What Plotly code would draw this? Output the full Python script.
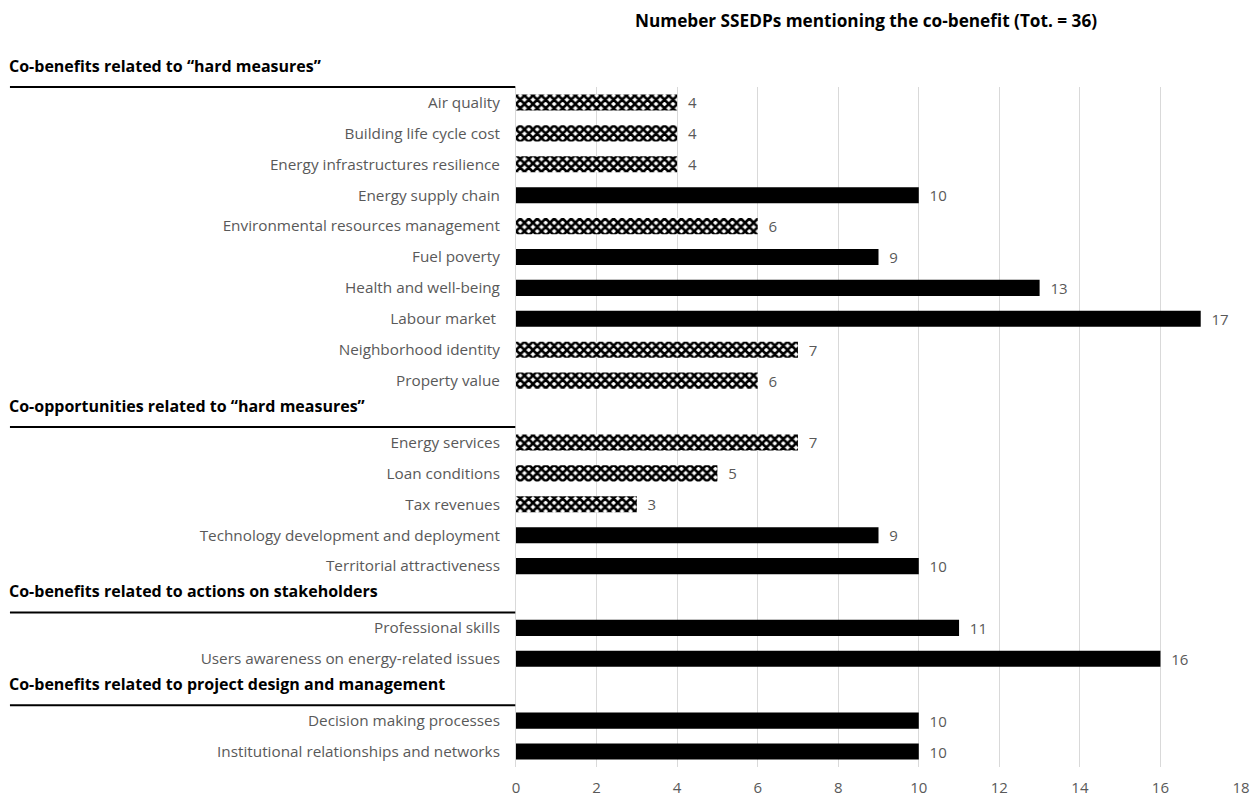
import plotly.graph_objects as go

rows = [
    "Air quality", "Building life cycle cost", "Energy infrastructures resilience",
    "Energy supply chain", "Environmental resources management", "Fuel poverty",
    "Health and well-being", "Labour market ", "Neighborhood identity", "Property value",
    "", "Energy services", "Loan conditions", "Tax revenues",
    "Technology development and deployment", "Territorial attractiveness",
    "", "Professional skills", "Users awareness on energy-related issues",
    "", "Decision making processes", "Institutional relationships and networks",
]
values = [4, 4, 4, 10, 6, 9, 13, 17, 7, 6, None, 7, 5, 3, 9, 10, None, 11, 16, None, 10, 10]
patterned = [1, 1, 1, 0, 1, 0, 0, 0, 1, 1, 0, 1, 1, 1, 0, 0, 0, 0, 0, 0, 0, 0]

sections = [
    "Co-benefits related to \u201chard measures\u201d",
    "Co-opportunities related to \u201chard measures\u201d",
    "Co-benefits related to actions on stakeholders",
    "Co-benefits related to project design and management",
]
section_start_rows = [0, 11, 17, 20]

x_ticks = [0, 2, 4, 6, 8, 10, 12, 14, 16, 18]
title_text = "Numeber SSEDPs mentioning the co-benefit (Tot. = 36)"

FONT = "Open Sans"
GRAY = "#595959"
N = len(rows)

fig = go.Figure()

solid_y = [i for i, v in enumerate(values) if v is not None and not patterned[i]]
pat_y = [i for i, v in enumerate(values) if v is not None and patterned[i]]

fig.add_trace(go.Bar(
    orientation="h",
    y=solid_y, x=[values[i] for i in solid_y],
    marker=dict(color="black", line=dict(width=0)),
    texttemplate="\u00a0\u00a0%{x}", textposition="outside", constraintext="none",
    textfont=dict(family=FONT, size=15, color=GRAY),
    cliponaxis=False, width=0.52, showlegend=False,
))
fig.add_trace(go.Bar(
    orientation="h",
    y=pat_y, x=[values[i] for i in pat_y],
    marker=dict(color="white", line=dict(width=0),
                pattern=dict(shape="x", fgcolor="black", bgcolor="white", size=6,
                             solidity=0.68, fgopacity=1)),
    texttemplate="\u00a0\u00a0%{x}", textposition="outside", constraintext="none",
    textfont=dict(family=FONT, size=15, color=GRAY),
    cliponaxis=False, width=0.52, showlegend=False,
))

label_rows = [i for i, r in enumerate(rows) if r]
fig.update_yaxes(
    tickmode="array", tickvals=label_rows, ticktext=[rows[i] for i in label_rows],
    range=[N - 0.5, -0.5], showgrid=False, showline=True, linecolor="#d9d9d9", linewidth=1,
    ticks="", ticklabelstandoff=12, automargin=False,
    tickfont=dict(family=FONT, size=15.3, color=GRAY), zeroline=False,
)
fig.update_xaxes(
    range=[0, 18], tickvals=x_ticks, showgrid=True, gridcolor="#d9d9d9", gridwidth=1,
    zeroline=False, showline=False, ticks="", ticklabelstandoff=10, automargin=False,
    tickfont=dict(family=FONT, size=15, color=GRAY),
)

def paper_y(row):
    return 1 - (row + 0.5) / N

for name, start in zip(sections, section_start_rows):
    line_row = start - 0.5
    fig.add_shape(type="line", xref="paper", yref="paper", x0=-0.698, x1=-0.001,
                  y0=paper_y(line_row), y1=paper_y(line_row), line=dict(color="black", width=2))
    fig.add_annotation(xref="paper", yref="paper", x=-0.698, y=paper_y(line_row - 0.68),
                       xshift=-3, text="<b>" + name + "</b>",
                       showarrow=False, xanchor="left", yanchor="middle",
                       font=dict(family=FONT, size=16, color="black"))

fig.add_annotation(xref="paper", yref="paper", x=0.483, y=1.0, yshift=67,
                   text="<b>" + title_text + "</b>", showarrow=False,
                   xanchor="center", yanchor="middle",
                   font=dict(family=FONT, size=17.2, color="black"))

fig.update_layout(
    width=1256, height=799, margin=dict(l=516, r=15, t=87, b=32),
    plot_bgcolor="white", paper_bgcolor="white", bargap=0.5,
)

fig.write_html("out.html")
